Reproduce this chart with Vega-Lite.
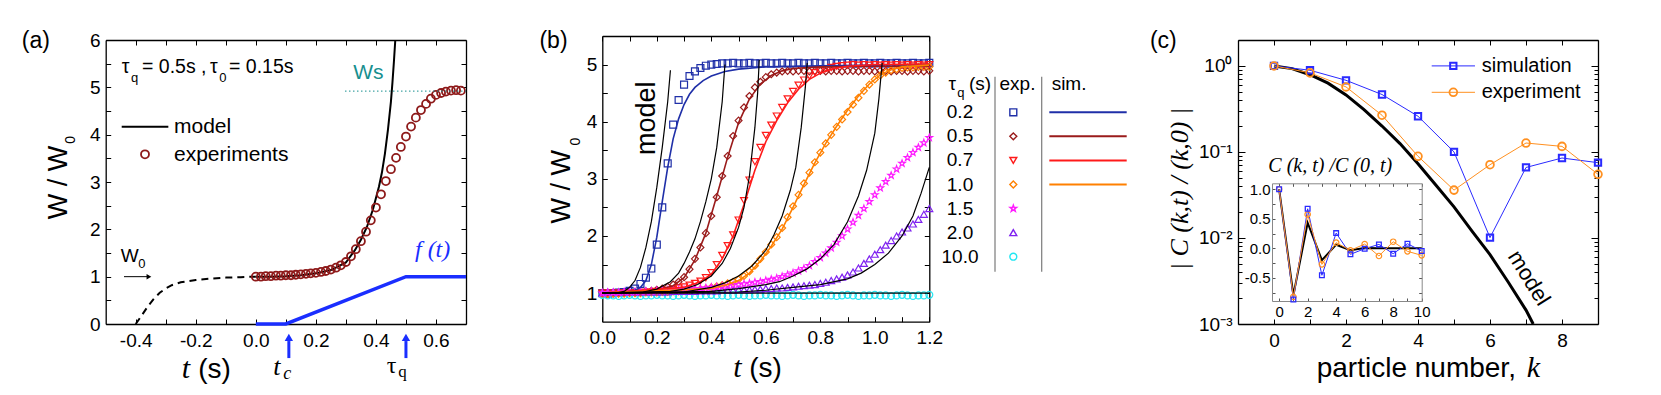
{
"$schema":"https://vega.github.io/schema/vega-lite/v6.json",
"width":1661,"height":395,"autosize":{"type":"none"},"padding":0,"background":"white",
"config":{"font":"Liberation Sans","view":{"stroke":null},
 "axis":{"grid":false,"title":null,"domainColor":"#000","domainWidth":1.3,"tickColor":"#000","tickWidth":1,"tickSize":-5,"labelFont":"Liberation Sans","labelFontSize":19,"labelColor":"#000","labelFlush":false,"labelOverlap":false,"labelBound":false},
 "text":{"font":"Liberation Sans","color":"#000"}},
"resolve":{"scale":{"x":"independent","y":"independent"},"axis":{"x":"independent","y":"independent"}},
"layer":[
{
 "resolve":{"axis":{"x":"independent","y":"independent"}},
 "layer":[
  {"data":{"values":[{"t":0,"w":0},{"t":0.1,"w":0},{"t":0.5,"w":1},{"t":0.7,"w":1}]},
   "mark":{"type":"line","color":"#1a2eff","strokeWidth":3.5},
   "encoding":{"x":{"field":"t","type":"quantitative","scale":{"domain":[-0.5,0.7],"range":[105.7,466],"nice":false,"zero":false},
                    "axis":{"orient":"bottom","offset":-71,"values":[-0.4,-0.3,-0.2,-0.1,0,0.1,0.2,0.3,0.4,0.5,0.6],"labelExpr":"abs(round(datum.value*10))%2==0 ? replace(format(datum.value,'.1f'),'\u2212','-') : ''","labelPadding":12}},
               "y":{"field":"w","type":"quantitative","scale":{"domain":[0,6],"range":[324,40],"nice":false,"zero":false},
                    "axis":{"orient":"left","offset":-105.7,"values":[0,0.5,1,1.5,2,2.5,3,3.5,4,4.5,5,5.5,6],"labelExpr":"datum.value%1==0 ? format(datum.value,'d') : ''","labelPadding":10.5}}}},
  {"data":{"values":[{"t":-0.4,"w":0},{"t":-0.38,"w":0.18},{"t":-0.36,"w":0.37},{"t":-0.34,"w":0.53},{"t":-0.32,"w":0.66},{"t":-0.3,"w":0.75},{"t":-0.28,"w":0.82},{"t":-0.25,"w":0.88},{"t":-0.2,"w":0.93},{"t":-0.15,"w":0.96},{"t":-0.1,"w":0.98},{"t":-0.05,"w":0.99},{"t":0,"w":1}]},
   "mark":{"type":"line","color":"#000","strokeWidth":2,"strokeDash":[7,5]},
   "encoding":{"x":{"field":"t","type":"quantitative","scale":{"domain":[-0.5,0.7],"range":[105.7,466],"nice":false,"zero":false},
                    "axis":{"orient":"top","offset":-40,"values":[-0.4,-0.3,-0.2,-0.1,0,0.1,0.2,0.3,0.4,0.5,0.6],"labels":false}},
               "y":{"field":"w","type":"quantitative","scale":{"domain":[0,6],"range":[324,40],"nice":false,"zero":false},
                    "axis":{"orient":"right","offset":-1195,"values":[0,0.5,1,1.5,2,2.5,3,3.5,4,4.5,5,5.5,6],"labels":false}}}},
  {"data":{"values":[{"t":0,"w":1},{"t":0.05,"w":1},{"t":0.1,"w":1.01},{"t":0.15,"w":1.03},{"t":0.2,"w":1.07},{"t":0.25,"w":1.14},{"t":0.27,"w":1.2},{"t":0.3,"w":1.3},{"t":0.33,"w":1.56},{"t":0.35,"w":1.78},{"t":0.37,"w":2.05},{"t":0.39,"w":2.42},{"t":0.41,"w":2.9},{"t":0.42,"w":3.2},{"t":0.43,"w":3.6},{"t":0.44,"w":4.1},{"t":0.45,"w":4.7},{"t":0.455,"w":5.1},{"t":0.46,"w":5.55},{"t":0.4645,"w":6}]},
   "mark":{"type":"line","color":"#000","strokeWidth":2},
   "encoding":{"x":{"field":"t","type":"quantitative","scale":{"domain":[-0.5,0.7],"range":[105.7,466],"nice":false,"zero":false},"axis":null},
               "y":{"field":"w","type":"quantitative","scale":{"domain":[0,6],"range":[324,40],"nice":false,"zero":false},"axis":null}}},
  {"data":{"values":[{"t":0,"w":1},{"t":0.017,"w":1},{"t":0.033,"w":1.01},{"t":0.05,"w":1.01},{"t":0.067,"w":1.02},{"t":0.083,"w":1.02},{"t":0.1,"w":1.03},{"t":0.117,"w":1.03},{"t":0.133,"w":1.04},{"t":0.15,"w":1.05},{"t":0.167,"w":1.06},{"t":0.183,"w":1.07},{"t":0.2,"w":1.08},{"t":0.217,"w":1.1},{"t":0.233,"w":1.12},{"t":0.25,"w":1.15},{"t":0.267,"w":1.19},{"t":0.283,"w":1.24},{"t":0.3,"w":1.31},{"t":0.317,"w":1.43},{"t":0.333,"w":1.58},{"t":0.35,"w":1.75},{"t":0.367,"w":1.95},{"t":0.383,"w":2.19},{"t":0.4,"w":2.46},{"t":0.417,"w":2.74},{"t":0.433,"w":3.02},{"t":0.45,"w":3.27},{"t":0.467,"w":3.51},{"t":0.483,"w":3.74},{"t":0.5,"w":3.96},{"t":0.517,"w":4.17},{"t":0.533,"w":4.36},{"t":0.55,"w":4.52},{"t":0.567,"w":4.65},{"t":0.583,"w":4.76},{"t":0.6,"w":4.84},{"t":0.617,"w":4.88},{"t":0.633,"w":4.91},{"t":0.65,"w":4.93},{"t":0.667,"w":4.94},{"t":0.683,"w":4.93}]},
   "mark":{"type":"point","shape":"circle","filled":false,"color":"#8e1a1a","size":64,"strokeWidth":1.8,"opacity":1},
   "encoding":{"x":{"field":"t","type":"quantitative","scale":{"domain":[-0.5,0.7],"range":[105.7,466],"nice":false,"zero":false},"axis":null},
               "y":{"field":"w","type":"quantitative","scale":{"domain":[0,6],"range":[324,40],"nice":false,"zero":false},"axis":null}}},
  {"data":{"values":[{"level":"Ws"}]},"mark":{"type":"rule","color":"#178f8f","strokeWidth":1,"strokeDash":[1.5,2.5]},
   "encoding":{"x":{"datum":0.297,"type":"quantitative","scale":{"domain":[-0.5,0.7],"range":[105.7,466],"nice":false,"zero":false},"axis":null},"x2":{"datum":0.7},"y":{"datum":4.92,"type":"quantitative","scale":{"domain":[0,6],"range":[324,40],"nice":false,"zero":false},"axis":null}}},
  {"data":{"values":[{"label":"Ws"}]},"mark":{"type":"text","fontSize":21,"align":"left","baseline":"alphabetic","color":"#178f8f"},
   "encoding":{"x":{"datum":0.3245,"type":"quantitative","scale":{"domain":[-0.5,0.7],"range":[105.7,466],"nice":false,"zero":false},"axis":null},"y":{"datum":5.17,"type":"quantitative","scale":{"domain":[0,6],"range":[324,40],"nice":false,"zero":false},"axis":null},"text":{"field":"label"}}},
  {"data":{"values":[{"label":"(a)"}]},"mark":{"type":"text","fontSize":23,"align":"center","baseline":"alphabetic"},
   "encoding":{"x":{"datum":-0.7328,"type":"quantitative","scale":{"domain":[-0.5,0.7],"range":[105.7,466],"nice":false,"zero":false},"axis":null},"y":{"datum":5.831,"type":"quantitative","scale":{"domain":[0,6],"range":[324,40],"nice":false,"zero":false},"axis":null},"text":{"field":"label"}}},
  {"data":{"values":[{"label":"τ"}]},"mark":{"type":"text","fontSize":19.5,"align":"left","baseline":"alphabetic"},
   "encoding":{"x":{"datum":-0.4467,"type":"quantitative","scale":{"domain":[-0.5,0.7],"range":[105.7,466],"nice":false,"zero":false},"axis":null},"y":{"datum":5.31,"type":"quantitative","scale":{"domain":[0,6],"range":[324,40],"nice":false,"zero":false},"axis":null},"text":{"field":"label"}}},
  {"data":{"values":[{"label":"q"}]},"mark":{"type":"text","fontSize":13,"align":"left","baseline":"alphabetic"},
   "encoding":{"x":{"datum":-0.4154,"type":"quantitative","scale":{"domain":[-0.5,0.7],"range":[105.7,466],"nice":false,"zero":false},"axis":null},"y":{"datum":5.119,"type":"quantitative","scale":{"domain":[0,6],"range":[324,40],"nice":false,"zero":false},"axis":null},"text":{"field":"label"}}},
  {"data":{"values":[{"label":"= 0.5s ,"}]},"mark":{"type":"text","fontSize":19.5,"align":"left","baseline":"alphabetic"},
   "encoding":{"x":{"datum":-0.3791,"type":"quantitative","scale":{"domain":[-0.5,0.7],"range":[105.7,466],"nice":false,"zero":false},"axis":null},"y":{"datum":5.31,"type":"quantitative","scale":{"domain":[0,6],"range":[324,40],"nice":false,"zero":false},"axis":null},"text":{"field":"label"}}},
  {"data":{"values":[{"label":"τ"}]},"mark":{"type":"text","fontSize":19.5,"align":"left","baseline":"alphabetic"},
   "encoding":{"x":{"datum":-0.153,"type":"quantitative","scale":{"domain":[-0.5,0.7],"range":[105.7,466],"nice":false,"zero":false},"axis":null},"y":{"datum":5.31,"type":"quantitative","scale":{"domain":[0,6],"range":[324,40],"nice":false,"zero":false},"axis":null},"text":{"field":"label"}}},
  {"data":{"values":[{"label":"0"}]},"mark":{"type":"text","fontSize":13,"align":"left","baseline":"alphabetic"},
   "encoding":{"x":{"datum":-0.1215,"type":"quantitative","scale":{"domain":[-0.5,0.7],"range":[105.7,466],"nice":false,"zero":false},"axis":null},"y":{"datum":5.119,"type":"quantitative","scale":{"domain":[0,6],"range":[324,40],"nice":false,"zero":false},"axis":null},"text":{"field":"label"}}},
  {"data":{"values":[{"label":"= 0.15s"}]},"mark":{"type":"text","fontSize":19.5,"align":"left","baseline":"alphabetic"},
   "encoding":{"x":{"datum":-0.0894,"type":"quantitative","scale":{"domain":[-0.5,0.7],"range":[105.7,466],"nice":false,"zero":false},"axis":null},"y":{"datum":5.31,"type":"quantitative","scale":{"domain":[0,6],"range":[324,40],"nice":false,"zero":false},"axis":null},"text":{"field":"label"}}},
  {"data":{"values":[{"item":"model"}]},"mark":{"type":"rule","color":"#000","strokeWidth":2},
   "encoding":{"x":{"datum":-0.4467,"type":"quantitative","scale":{"domain":[-0.5,0.7],"range":[105.7,466],"nice":false,"zero":false},"axis":null},"x2":{"datum":-0.2914},"y":{"datum":4.169,"type":"quantitative","scale":{"domain":[0,6],"range":[324,40],"nice":false,"zero":false},"axis":null}}},
  {"data":{"values":[{"label":"model"}]},"mark":{"type":"text","fontSize":21,"align":"left","baseline":"alphabetic"},
   "encoding":{"x":{"datum":-0.2725,"type":"quantitative","scale":{"domain":[-0.5,0.7],"range":[105.7,466],"nice":false,"zero":false},"axis":null},"y":{"datum":4.029,"type":"quantitative","scale":{"domain":[0,6],"range":[324,40],"nice":false,"zero":false},"axis":null},"text":{"field":"label"}}},
  {"data":{"values":[{"item":"experiments"}]},"mark":{"type":"point","shape":"circle","filled":false,"color":"#8e1a1a","size":64,"strokeWidth":1.8,"opacity":1},
   "encoding":{"x":{"datum":-0.3691,"type":"quantitative","scale":{"domain":[-0.5,0.7],"range":[105.7,466],"nice":false,"zero":false},"axis":null},"y":{"datum":3.585,"type":"quantitative","scale":{"domain":[0,6],"range":[324,40],"nice":false,"zero":false},"axis":null}}},
  {"data":{"values":[{"label":"experiments"}]},"mark":{"type":"text","fontSize":21,"align":"left","baseline":"alphabetic"},
   "encoding":{"x":{"datum":-0.2725,"type":"quantitative","scale":{"domain":[-0.5,0.7],"range":[105.7,466],"nice":false,"zero":false},"axis":null},"y":{"datum":3.444,"type":"quantitative","scale":{"domain":[0,6],"range":[324,40],"nice":false,"zero":false},"axis":null},"text":{"field":"label"}}},
  {"data":{"values":[{"label":"W"}]},"mark":{"type":"text","fontSize":19,"align":"left","baseline":"alphabetic"},
   "encoding":{"x":{"datum":-0.45,"type":"quantitative","scale":{"domain":[-0.5,0.7],"range":[105.7,466],"nice":false,"zero":false},"axis":null},"y":{"datum":1.317,"type":"quantitative","scale":{"domain":[0,6],"range":[324,40],"nice":false,"zero":false},"axis":null},"text":{"field":"label"}}},
  {"data":{"values":[{"label":"0"}]},"mark":{"type":"text","fontSize":13,"align":"left","baseline":"alphabetic"},
   "encoding":{"x":{"datum":-0.3915,"type":"quantitative","scale":{"domain":[-0.5,0.7],"range":[105.7,466],"nice":false,"zero":false},"axis":null},"y":{"datum":1.176,"type":"quantitative","scale":{"domain":[0,6],"range":[324,40],"nice":false,"zero":false},"axis":null},"text":{"field":"label"}}},
  {"data":{"values":[{"item":"W0"}]},"mark":{"type":"rule","color":"#000","strokeWidth":1},
   "encoding":{"x":{"datum":-0.439,"type":"quantitative","scale":{"domain":[-0.5,0.7],"range":[105.7,466],"nice":false,"zero":false},"axis":null},"x2":{"datum":-0.362},"y":{"datum":1,"type":"quantitative","scale":{"domain":[0,6],"range":[324,40],"nice":false,"zero":false},"axis":null}}},
  {"data":{"values":[{"item":"W0"}]},"mark":{"type":"point","shape":"triangle-right","filled":true,"color":"#000","size":30,"opacity":1},
   "encoding":{"x":{"datum":-0.356,"type":"quantitative","scale":{"domain":[-0.5,0.7],"range":[105.7,466],"nice":false,"zero":false},"axis":null},"y":{"datum":1,"type":"quantitative","scale":{"domain":[0,6],"range":[324,40],"nice":false,"zero":false},"axis":null}}},
  {"data":{"values":[{"label":"f (t)"}]},"mark":{"type":"text","fontSize":24,"font":"Liberation Serif","fontStyle":"italic","align":"left","baseline":"alphabetic","color":"#1a2eff"},
   "encoding":{"x":{"datum":0.53,"type":"quantitative","scale":{"domain":[-0.5,0.7],"range":[105.7,466],"nice":false,"zero":false},"axis":null},"y":{"datum":1.422,"type":"quantitative","scale":{"domain":[0,6],"range":[324,40],"nice":false,"zero":false},"axis":null},"text":{"field":"label"}}},
  {"data":{"values":[{"name":"tc","t":0.11},{"name":"tau_q","t":0.5}]},"mark":{"type":"rule","color":"#1a2eff","strokeWidth":3},
   "encoding":{"x":{"field":"t","type":"quantitative","scale":{"domain":[-0.5,0.7],"range":[105.7,466],"nice":false,"zero":false},"axis":null},
               "y":{"datum":-0.72,"type":"quantitative","scale":{"domain":[0,6],"range":[324,40],"nice":false,"zero":false},"axis":null},"y2":{"datum":-0.36}}},
  {"data":{"values":[{"name":"tc","t":0.11},{"name":"tau_q","t":0.5}]},"mark":{"type":"point","shape":"triangle-up","filled":true,"color":"#1a2eff","size":70,"opacity":1},
   "encoding":{"x":{"field":"t","type":"quantitative","scale":{"domain":[-0.5,0.7],"range":[105.7,466],"nice":false,"zero":false},"axis":null},
               "y":{"datum":-0.28,"type":"quantitative","scale":{"domain":[0,6],"range":[324,40],"nice":false,"zero":false},"axis":null}}},
  {"data":{"values":[{"label":"t"}]},"mark":{"type":"text","fontSize":26,"font":"Liberation Serif","fontStyle":"italic","align":"left","baseline":"alphabetic"},
   "encoding":{"x":{"datum":0.058,"type":"quantitative","scale":{"domain":[-0.5,0.7],"range":[105.7,466],"nice":false,"zero":false},"axis":null},"y":{"datum":-1.077,"type":"quantitative","scale":{"domain":[0,6],"range":[324,40],"nice":false,"zero":false},"axis":null},"text":{"field":"label"}}},
  {"data":{"values":[{"label":"c"}]},"mark":{"type":"text","fontSize":18,"font":"Liberation Serif","fontStyle":"italic","align":"left","baseline":"alphabetic"},
   "encoding":{"x":{"datum":0.0914,"type":"quantitative","scale":{"domain":[-0.5,0.7],"range":[105.7,466],"nice":false,"zero":false},"axis":null},"y":{"datum":-1.162,"type":"quantitative","scale":{"domain":[0,6],"range":[324,40],"nice":false,"zero":false},"axis":null},"text":{"field":"label"}}},
  {"data":{"values":[{"label":"τ"}]},"mark":{"type":"text","fontSize":24,"font":"Liberation Serif","align":"left","baseline":"alphabetic"},
   "encoding":{"x":{"datum":0.4357,"type":"quantitative","scale":{"domain":[-0.5,0.7],"range":[105.7,466],"nice":false,"zero":false},"axis":null},"y":{"datum":-1.042,"type":"quantitative","scale":{"domain":[0,6],"range":[324,40],"nice":false,"zero":false},"axis":null},"text":{"field":"label"}}},
  {"data":{"values":[{"label":"q"}]},"mark":{"type":"text","fontSize":17,"font":"Liberation Serif","align":"left","baseline":"alphabetic"},
   "encoding":{"x":{"datum":0.4744,"type":"quantitative","scale":{"domain":[-0.5,0.7],"range":[105.7,466],"nice":false,"zero":false},"axis":null},"y":{"datum":-1.113,"type":"quantitative","scale":{"domain":[0,6],"range":[324,40],"nice":false,"zero":false},"axis":null},"text":{"field":"label"}}},
  {"data":{"values":[{"label":"t"}]},"mark":{"type":"text","fontSize":30,"font":"Liberation Serif","fontStyle":"italic","align":"left","baseline":"alphabetic"},
   "encoding":{"x":{"datum":-0.2469,"type":"quantitative","scale":{"domain":[-0.5,0.7],"range":[105.7,466],"nice":false,"zero":false},"axis":null},"y":{"datum":-1.141,"type":"quantitative","scale":{"domain":[0,6],"range":[324,40],"nice":false,"zero":false},"axis":null},"text":{"field":"label"}}},
  {"data":{"values":[{"label":"(s)"}]},"mark":{"type":"text","fontSize":28,"align":"left","baseline":"alphabetic"},
   "encoding":{"x":{"datum":-0.1917,"type":"quantitative","scale":{"domain":[-0.5,0.7],"range":[105.7,466],"nice":false,"zero":false},"axis":null},"y":{"datum":-1.141,"type":"quantitative","scale":{"domain":[0,6],"range":[324,40],"nice":false,"zero":false},"axis":null},"text":{"field":"label"}}},
  {"data":{"values":[{"label":"W / W"}]},"mark":{"type":"text","fontSize":27,"angle":270,"align":"center","baseline":"alphabetic"},
   "encoding":{"x":{"datum":-0.6299,"type":"quantitative","scale":{"domain":[-0.5,0.7],"range":[105.7,466],"nice":false,"zero":false},"axis":null},"y":{"datum":2.99,"type":"quantitative","scale":{"domain":[0,6],"range":[324,40],"nice":false,"zero":false},"axis":null},"text":{"field":"label"}}},
  {"data":{"values":[{"label":"0"}]},"mark":{"type":"text","fontSize":14,"angle":270,"align":"center","baseline":"alphabetic"},
   "encoding":{"x":{"datum":-0.6022,"type":"quantitative","scale":{"domain":[-0.5,0.7],"range":[105.7,466],"nice":false,"zero":false},"axis":null},"y":{"datum":3.888,"type":"quantitative","scale":{"domain":[0,6],"range":[324,40],"nice":false,"zero":false},"axis":null},"text":{"field":"label"}}}
 ]
},
{
 "resolve":{"axis":{"x":"independent","y":"independent"}},
 "layer":[
  {"data":{"values":[
{"s":"0.2","t":0,"w":1},{"s":"0.2","t":0.02,"w":0.99},{"s":"0.2","t":0.04,"w":1},{"s":"0.2","t":0.06,"w":1.01},{"s":"0.2","t":0.08,"w":1.02},{"s":"0.2","t":0.1,"w":1.04},{"s":"0.2","t":0.12,"w":1.08},{"s":"0.2","t":0.14,"w":1.16},{"s":"0.2","t":0.16,"w":1.27},{"s":"0.2","t":0.18,"w":1.43},{"s":"0.2","t":0.2,"w":1.85},{"s":"0.2","t":0.22,"w":2.5},{"s":"0.2","t":0.24,"w":3.27},{"s":"0.2","t":0.26,"w":3.95},{"s":"0.2","t":0.28,"w":4.38},{"s":"0.2","t":0.3,"w":4.65},{"s":"0.2","t":0.32,"w":4.8},{"s":"0.2","t":0.34,"w":4.88},{"s":"0.2","t":0.36,"w":4.94},{"s":"0.2","t":0.38,"w":4.98},{"s":"0.2","t":0.4,"w":5},{"s":"0.2","t":0.42,"w":5.01},{"s":"0.2","t":0.44,"w":5.02},{"s":"0.2","t":0.46,"w":5.02},{"s":"0.2","t":0.48,"w":5.03},{"s":"0.2","t":0.5,"w":5.02},{"s":"0.2","t":0.52,"w":5.02},{"s":"0.2","t":0.54,"w":5.03},{"s":"0.2","t":0.56,"w":5.02},{"s":"0.2","t":0.58,"w":5.02},{"s":"0.2","t":0.6,"w":5.03},{"s":"0.2","t":0.62,"w":5.02},{"s":"0.2","t":0.64,"w":5.02},{"s":"0.2","t":0.66,"w":5.03},{"s":"0.2","t":0.68,"w":5.02},{"s":"0.2","t":0.7,"w":5.02},{"s":"0.2","t":0.72,"w":5.03},{"s":"0.2","t":0.74,"w":5.02},{"s":"0.2","t":0.76,"w":5.02},{"s":"0.2","t":0.78,"w":5.03},{"s":"0.2","t":0.8,"w":5.02},{"s":"0.2","t":0.82,"w":5.02},{"s":"0.2","t":0.84,"w":5.03},{"s":"0.2","t":0.86,"w":5.02},{"s":"0.2","t":0.88,"w":5.02},{"s":"0.2","t":0.9,"w":5.03},{"s":"0.2","t":0.92,"w":5.02},{"s":"0.2","t":0.94,"w":5.02},{"s":"0.2","t":0.96,"w":5.03},{"s":"0.2","t":0.98,"w":5.02},{"s":"0.2","t":1,"w":5.02},{"s":"0.2","t":1.02,"w":5.03},{"s":"0.2","t":1.04,"w":5.02},{"s":"0.2","t":1.06,"w":5.02},{"s":"0.2","t":1.08,"w":5.03},{"s":"0.2","t":1.1,"w":5.02},{"s":"0.2","t":1.12,"w":5.02},{"s":"0.2","t":1.14,"w":5.03},{"s":"0.2","t":1.16,"w":5.02},{"s":"0.2","t":1.18,"w":5.02},{"s":"0.2","t":1.2,"w":5.03},
{"s":"0.5","t":0,"w":1},{"s":"0.5","t":0.02,"w":1},{"s":"0.5","t":0.04,"w":1},{"s":"0.5","t":0.06,"w":1},{"s":"0.5","t":0.08,"w":1.01},{"s":"0.5","t":0.1,"w":1.01},{"s":"0.5","t":0.12,"w":1.02},{"s":"0.5","t":0.14,"w":1.02},{"s":"0.5","t":0.16,"w":1.03},{"s":"0.5","t":0.18,"w":1.04},{"s":"0.5","t":0.2,"w":1.06},{"s":"0.5","t":0.22,"w":1.08},{"s":"0.5","t":0.24,"w":1.11},{"s":"0.5","t":0.26,"w":1.15},{"s":"0.5","t":0.28,"w":1.2},{"s":"0.5","t":0.3,"w":1.28},{"s":"0.5","t":0.32,"w":1.42},{"s":"0.5","t":0.34,"w":1.6},{"s":"0.5","t":0.36,"w":1.8},{"s":"0.5","t":0.38,"w":2.05},{"s":"0.5","t":0.4,"w":2.35},{"s":"0.5","t":0.42,"w":2.68},{"s":"0.5","t":0.44,"w":3.05},{"s":"0.5","t":0.46,"w":3.4},{"s":"0.5","t":0.48,"w":3.75},{"s":"0.5","t":0.5,"w":4.02},{"s":"0.5","t":0.52,"w":4.25},{"s":"0.5","t":0.54,"w":4.45},{"s":"0.5","t":0.56,"w":4.6},{"s":"0.5","t":0.58,"w":4.7},{"s":"0.5","t":0.6,"w":4.78},{"s":"0.5","t":0.62,"w":4.83},{"s":"0.5","t":0.64,"w":4.86},{"s":"0.5","t":0.66,"w":4.88},{"s":"0.5","t":0.68,"w":4.89},{"s":"0.5","t":0.7,"w":4.88},{"s":"0.5","t":0.72,"w":4.89},{"s":"0.5","t":0.74,"w":4.89},{"s":"0.5","t":0.76,"w":4.88},{"s":"0.5","t":0.78,"w":4.89},{"s":"0.5","t":0.8,"w":4.89},{"s":"0.5","t":0.82,"w":4.88},{"s":"0.5","t":0.84,"w":4.89},{"s":"0.5","t":0.86,"w":4.89},{"s":"0.5","t":0.88,"w":4.88},{"s":"0.5","t":0.9,"w":4.89},{"s":"0.5","t":0.92,"w":4.89},{"s":"0.5","t":0.94,"w":4.88},{"s":"0.5","t":0.96,"w":4.89},{"s":"0.5","t":0.98,"w":4.89},{"s":"0.5","t":1,"w":4.88},{"s":"0.5","t":1.02,"w":4.89},{"s":"0.5","t":1.04,"w":4.89},{"s":"0.5","t":1.06,"w":4.88},{"s":"0.5","t":1.08,"w":4.89},{"s":"0.5","t":1.1,"w":4.89},{"s":"0.5","t":1.12,"w":4.88},{"s":"0.5","t":1.14,"w":4.89},{"s":"0.5","t":1.16,"w":4.89},{"s":"0.5","t":1.18,"w":4.88},{"s":"0.5","t":1.2,"w":4.89},
{"s":"0.7","t":0,"w":1},{"s":"0.7","t":0.02,"w":1},{"s":"0.7","t":0.04,"w":1},{"s":"0.7","t":0.06,"w":1},{"s":"0.7","t":0.08,"w":1},{"s":"0.7","t":0.1,"w":1.01},{"s":"0.7","t":0.12,"w":1.01},{"s":"0.7","t":0.14,"w":1.01},{"s":"0.7","t":0.16,"w":1.02},{"s":"0.7","t":0.18,"w":1.02},{"s":"0.7","t":0.2,"w":1.03},{"s":"0.7","t":0.22,"w":1.04},{"s":"0.7","t":0.24,"w":1.05},{"s":"0.7","t":0.26,"w":1.07},{"s":"0.7","t":0.28,"w":1.09},{"s":"0.7","t":0.3,"w":1.11},{"s":"0.7","t":0.32,"w":1.14},{"s":"0.7","t":0.34,"w":1.17},{"s":"0.7","t":0.36,"w":1.21},{"s":"0.7","t":0.38,"w":1.27},{"s":"0.7","t":0.4,"w":1.36},{"s":"0.7","t":0.42,"w":1.5},{"s":"0.7","t":0.44,"w":1.66},{"s":"0.7","t":0.46,"w":1.83},{"s":"0.7","t":0.48,"w":2.02},{"s":"0.7","t":0.5,"w":2.28},{"s":"0.7","t":0.52,"w":2.62},{"s":"0.7","t":0.54,"w":2.98},{"s":"0.7","t":0.56,"w":3.3},{"s":"0.7","t":0.58,"w":3.55},{"s":"0.7","t":0.6,"w":3.76},{"s":"0.7","t":0.62,"w":3.94},{"s":"0.7","t":0.64,"w":4.1},{"s":"0.7","t":0.66,"w":4.25},{"s":"0.7","t":0.68,"w":4.4},{"s":"0.7","t":0.7,"w":4.53},{"s":"0.7","t":0.72,"w":4.64},{"s":"0.7","t":0.74,"w":4.73},{"s":"0.7","t":0.76,"w":4.8},{"s":"0.7","t":0.78,"w":4.86},{"s":"0.7","t":0.8,"w":4.9},{"s":"0.7","t":0.82,"w":4.93},{"s":"0.7","t":0.84,"w":4.95},{"s":"0.7","t":0.86,"w":4.97},{"s":"0.7","t":0.88,"w":4.98},{"s":"0.7","t":0.9,"w":4.99},{"s":"0.7","t":0.92,"w":5},{"s":"0.7","t":0.94,"w":4.99},{"s":"0.7","t":0.96,"w":5},{"s":"0.7","t":0.98,"w":4.99},{"s":"0.7","t":1,"w":5},{"s":"0.7","t":1.02,"w":4.99},{"s":"0.7","t":1.04,"w":5},{"s":"0.7","t":1.06,"w":4.99},{"s":"0.7","t":1.08,"w":5},{"s":"0.7","t":1.1,"w":4.99},{"s":"0.7","t":1.12,"w":5},{"s":"0.7","t":1.14,"w":4.99},{"s":"0.7","t":1.16,"w":5},{"s":"0.7","t":1.18,"w":4.99},{"s":"0.7","t":1.2,"w":5},
{"s":"1.0","t":0,"w":0.98},{"s":"1.0","t":0.02,"w":0.98},{"s":"1.0","t":0.04,"w":0.99},{"s":"1.0","t":0.06,"w":0.99},{"s":"1.0","t":0.08,"w":0.99},{"s":"1.0","t":0.1,"w":1},{"s":"1.0","t":0.12,"w":1},{"s":"1.0","t":0.14,"w":1},{"s":"1.0","t":0.16,"w":1.01},{"s":"1.0","t":0.18,"w":1.01},{"s":"1.0","t":0.2,"w":1.01},{"s":"1.0","t":0.22,"w":1.02},{"s":"1.0","t":0.24,"w":1.02},{"s":"1.0","t":0.26,"w":1.03},{"s":"1.0","t":0.28,"w":1.03},{"s":"1.0","t":0.3,"w":1.04},{"s":"1.0","t":0.32,"w":1.05},{"s":"1.0","t":0.34,"w":1.06},{"s":"1.0","t":0.36,"w":1.07},{"s":"1.0","t":0.38,"w":1.08},{"s":"1.0","t":0.4,"w":1.1},{"s":"1.0","t":0.42,"w":1.12},{"s":"1.0","t":0.44,"w":1.14},{"s":"1.0","t":0.46,"w":1.17},{"s":"1.0","t":0.48,"w":1.2},{"s":"1.0","t":0.5,"w":1.24},{"s":"1.0","t":0.52,"w":1.3},{"s":"1.0","t":0.54,"w":1.38},{"s":"1.0","t":0.56,"w":1.48},{"s":"1.0","t":0.58,"w":1.6},{"s":"1.0","t":0.6,"w":1.72},{"s":"1.0","t":0.62,"w":1.85},{"s":"1.0","t":0.64,"w":1.98},{"s":"1.0","t":0.66,"w":2.14},{"s":"1.0","t":0.68,"w":2.33},{"s":"1.0","t":0.7,"w":2.52},{"s":"1.0","t":0.72,"w":2.72},{"s":"1.0","t":0.74,"w":2.92},{"s":"1.0","t":0.76,"w":3.11},{"s":"1.0","t":0.78,"w":3.29},{"s":"1.0","t":0.8,"w":3.46},{"s":"1.0","t":0.82,"w":3.62},{"s":"1.0","t":0.84,"w":3.77},{"s":"1.0","t":0.86,"w":3.91},{"s":"1.0","t":0.88,"w":4.04},{"s":"1.0","t":0.9,"w":4.17},{"s":"1.0","t":0.92,"w":4.3},{"s":"1.0","t":0.94,"w":4.42},{"s":"1.0","t":0.96,"w":4.54},{"s":"1.0","t":0.98,"w":4.65},{"s":"1.0","t":1,"w":4.74},{"s":"1.0","t":1.02,"w":4.81},{"s":"1.0","t":1.04,"w":4.86},{"s":"1.0","t":1.06,"w":4.9},{"s":"1.0","t":1.08,"w":4.92},{"s":"1.0","t":1.1,"w":4.94},{"s":"1.0","t":1.12,"w":4.95},{"s":"1.0","t":1.14,"w":4.95},{"s":"1.0","t":1.16,"w":4.96},{"s":"1.0","t":1.18,"w":4.96},{"s":"1.0","t":1.2,"w":4.96},
{"s":"10.0","t":0,"w":0.97},{"s":"10.0","t":0.02,"w":0.96},{"s":"10.0","t":0.04,"w":0.96},{"s":"10.0","t":0.06,"w":0.95},{"s":"10.0","t":0.08,"w":0.96},{"s":"10.0","t":0.1,"w":0.97},{"s":"10.0","t":0.12,"w":0.96},{"s":"10.0","t":0.14,"w":0.95},{"s":"10.0","t":0.16,"w":0.96},{"s":"10.0","t":0.18,"w":0.96},{"s":"10.0","t":0.2,"w":0.97},{"s":"10.0","t":0.22,"w":0.96},{"s":"10.0","t":0.24,"w":0.96},{"s":"10.0","t":0.26,"w":0.95},{"s":"10.0","t":0.28,"w":0.96},{"s":"10.0","t":0.3,"w":0.97},{"s":"10.0","t":0.32,"w":0.96},{"s":"10.0","t":0.34,"w":0.95},{"s":"10.0","t":0.36,"w":0.96},{"s":"10.0","t":0.38,"w":0.96},{"s":"10.0","t":0.4,"w":0.97},{"s":"10.0","t":0.42,"w":0.96},{"s":"10.0","t":0.44,"w":0.96},{"s":"10.0","t":0.46,"w":0.95},{"s":"10.0","t":0.48,"w":0.96},{"s":"10.0","t":0.5,"w":0.97},{"s":"10.0","t":0.52,"w":0.96},{"s":"10.0","t":0.54,"w":0.95},{"s":"10.0","t":0.56,"w":0.96},{"s":"10.0","t":0.58,"w":0.96},{"s":"10.0","t":0.6,"w":0.97},{"s":"10.0","t":0.62,"w":0.96},{"s":"10.0","t":0.64,"w":0.96},{"s":"10.0","t":0.66,"w":0.95},{"s":"10.0","t":0.68,"w":0.96},{"s":"10.0","t":0.7,"w":0.97},{"s":"10.0","t":0.72,"w":0.96},{"s":"10.0","t":0.74,"w":0.95},{"s":"10.0","t":0.76,"w":0.96},{"s":"10.0","t":0.78,"w":0.96},{"s":"10.0","t":0.8,"w":0.97},{"s":"10.0","t":0.82,"w":0.96},{"s":"10.0","t":0.84,"w":0.96},{"s":"10.0","t":0.86,"w":0.95},{"s":"10.0","t":0.88,"w":0.96},{"s":"10.0","t":0.9,"w":0.97},{"s":"10.0","t":0.92,"w":0.96},{"s":"10.0","t":0.94,"w":0.95},{"s":"10.0","t":0.96,"w":0.96},{"s":"10.0","t":0.98,"w":0.96},{"s":"10.0","t":1,"w":0.97},{"s":"10.0","t":1.02,"w":0.96},{"s":"10.0","t":1.04,"w":0.96},{"s":"10.0","t":1.06,"w":0.95},{"s":"10.0","t":1.08,"w":0.96},{"s":"10.0","t":1.1,"w":0.97},{"s":"10.0","t":1.12,"w":0.96},{"s":"10.0","t":1.14,"w":0.95},{"s":"10.0","t":1.16,"w":0.96},{"s":"10.0","t":1.18,"w":0.96},{"s":"10.0","t":1.2,"w":0.97},
{"s":"2.0","t":0,"w":1.01},{"s":"2.0","t":0.02,"w":1.02},{"s":"2.0","t":0.04,"w":1.02},{"s":"2.0","t":0.06,"w":1.02},{"s":"2.0","t":0.08,"w":1.02},{"s":"2.0","t":0.1,"w":1.02},{"s":"2.0","t":0.12,"w":1.02},{"s":"2.0","t":0.14,"w":1.02},{"s":"2.0","t":0.16,"w":1.02},{"s":"2.0","t":0.18,"w":1.02},{"s":"2.0","t":0.2,"w":1.02},{"s":"2.0","t":0.22,"w":1.02},{"s":"2.0","t":0.24,"w":1.02},{"s":"2.0","t":0.26,"w":1.03},{"s":"2.0","t":0.28,"w":1.03},{"s":"2.0","t":0.3,"w":1.03},{"s":"2.0","t":0.32,"w":1.03},{"s":"2.0","t":0.34,"w":1.03},{"s":"2.0","t":0.36,"w":1.04},{"s":"2.0","t":0.38,"w":1.04},{"s":"2.0","t":0.4,"w":1.04},{"s":"2.0","t":0.42,"w":1.04},{"s":"2.0","t":0.44,"w":1.05},{"s":"2.0","t":0.46,"w":1.05},{"s":"2.0","t":0.48,"w":1.05},{"s":"2.0","t":0.5,"w":1.06},{"s":"2.0","t":0.52,"w":1.06},{"s":"2.0","t":0.54,"w":1.06},{"s":"2.0","t":0.56,"w":1.07},{"s":"2.0","t":0.58,"w":1.07},{"s":"2.0","t":0.6,"w":1.08},{"s":"2.0","t":0.62,"w":1.08},{"s":"2.0","t":0.64,"w":1.09},{"s":"2.0","t":0.66,"w":1.09},{"s":"2.0","t":0.68,"w":1.1},{"s":"2.0","t":0.7,"w":1.11},{"s":"2.0","t":0.72,"w":1.12},{"s":"2.0","t":0.74,"w":1.13},{"s":"2.0","t":0.76,"w":1.14},{"s":"2.0","t":0.78,"w":1.15},{"s":"2.0","t":0.8,"w":1.17},{"s":"2.0","t":0.82,"w":1.19},{"s":"2.0","t":0.84,"w":1.22},{"s":"2.0","t":0.86,"w":1.25},{"s":"2.0","t":0.88,"w":1.28},{"s":"2.0","t":0.9,"w":1.32},{"s":"2.0","t":0.92,"w":1.37},{"s":"2.0","t":0.94,"w":1.44},{"s":"2.0","t":0.96,"w":1.52},{"s":"2.0","t":0.98,"w":1.6},{"s":"2.0","t":1,"w":1.68},{"s":"2.0","t":1.02,"w":1.76},{"s":"2.0","t":1.04,"w":1.84},{"s":"2.0","t":1.06,"w":1.92},{"s":"2.0","t":1.08,"w":2},{"s":"2.0","t":1.1,"w":2.07},{"s":"2.0","t":1.12,"w":2.14},{"s":"2.0","t":1.14,"w":2.21},{"s":"2.0","t":1.16,"w":2.29},{"s":"2.0","t":1.18,"w":2.38},{"s":"2.0","t":1.2,"w":2.48},
{"s":"1.5","t":0,"w":1},{"s":"1.5","t":0.02,"w":1.01},{"s":"1.5","t":0.04,"w":1.01},{"s":"1.5","t":0.06,"w":1.01},{"s":"1.5","t":0.08,"w":1.02},{"s":"1.5","t":0.1,"w":1.02},{"s":"1.5","t":0.12,"w":1.02},{"s":"1.5","t":0.14,"w":1.03},{"s":"1.5","t":0.16,"w":1.03},{"s":"1.5","t":0.18,"w":1.03},{"s":"1.5","t":0.2,"w":1.04},{"s":"1.5","t":0.22,"w":1.04},{"s":"1.5","t":0.24,"w":1.05},{"s":"1.5","t":0.26,"w":1.05},{"s":"1.5","t":0.28,"w":1.06},{"s":"1.5","t":0.3,"w":1.06},{"s":"1.5","t":0.32,"w":1.07},{"s":"1.5","t":0.34,"w":1.08},{"s":"1.5","t":0.36,"w":1.08},{"s":"1.5","t":0.38,"w":1.09},{"s":"1.5","t":0.4,"w":1.1},{"s":"1.5","t":0.42,"w":1.11},{"s":"1.5","t":0.44,"w":1.12},{"s":"1.5","t":0.46,"w":1.13},{"s":"1.5","t":0.48,"w":1.14},{"s":"1.5","t":0.5,"w":1.15},{"s":"1.5","t":0.52,"w":1.16},{"s":"1.5","t":0.54,"w":1.17},{"s":"1.5","t":0.56,"w":1.19},{"s":"1.5","t":0.58,"w":1.2},{"s":"1.5","t":0.6,"w":1.22},{"s":"1.5","t":0.62,"w":1.24},{"s":"1.5","t":0.64,"w":1.26},{"s":"1.5","t":0.66,"w":1.29},{"s":"1.5","t":0.68,"w":1.32},{"s":"1.5","t":0.7,"w":1.35},{"s":"1.5","t":0.72,"w":1.39},{"s":"1.5","t":0.74,"w":1.43},{"s":"1.5","t":0.76,"w":1.48},{"s":"1.5","t":0.78,"w":1.55},{"s":"1.5","t":0.8,"w":1.62},{"s":"1.5","t":0.82,"w":1.7},{"s":"1.5","t":0.84,"w":1.79},{"s":"1.5","t":0.86,"w":1.89},{"s":"1.5","t":0.88,"w":2},{"s":"1.5","t":0.9,"w":2.12},{"s":"1.5","t":0.92,"w":2.24},{"s":"1.5","t":0.94,"w":2.36},{"s":"1.5","t":0.96,"w":2.48},{"s":"1.5","t":0.98,"w":2.6},{"s":"1.5","t":1,"w":2.72},{"s":"1.5","t":1.02,"w":2.84},{"s":"1.5","t":1.04,"w":2.95},{"s":"1.5","t":1.06,"w":3.06},{"s":"1.5","t":1.08,"w":3.17},{"s":"1.5","t":1.1,"w":3.27},{"s":"1.5","t":1.12,"w":3.37},{"s":"1.5","t":1.14,"w":3.46},{"s":"1.5","t":1.16,"w":3.55},{"s":"1.5","t":1.18,"w":3.63},{"s":"1.5","t":1.2,"w":3.72}
   ]},
   "mark":{"type":"point","filled":false,"size":48,"strokeWidth":1.2,"opacity":1},
   "encoding":{"x":{"field":"t","type":"quantitative","scale":{"domain":[0,1.2],"range":[602.3,929.3],"nice":false,"zero":false},"axis":null},
               "y":{"field":"w","type":"quantitative","scale":{"domain":[0.5,5.5],"range":[321.7,36],"nice":false,"zero":false},"axis":null},
               "color":{"field":"s","type":"nominal","legend":null,"scale":{"domain":["0.2","0.5","0.7","1.0","1.5","2.0","10.0"],"range":["#1f2fa8","#9a1b1b","#ff1a1a","#ff8000","#ff1aff","#7f22f0","#22e6f2"]}},
               "shape":{"field":"s","type":"nominal","legend":null,"scale":{"domain":["0.2","0.5","0.7","1.0","1.5","2.0","10.0"],"range":["square","diamond","triangle-down","diamond","M0,-1L0.235,-0.324L0.951,-0.309L0.38,0.124L0.588,0.809L0,0.4L-0.588,0.809L-0.38,0.124L-0.951,-0.309L-0.235,-0.324Z","triangle-up","circle"]}}}},
  {"data":{"values":[
{"s":"0.2","t":0,"w":1},{"s":"0.2","t":0.08,"w":1.01},{"s":"0.2","t":0.12,"w":1.05},{"s":"0.2","t":0.14,"w":1.1},{"s":"0.2","t":0.16,"w":1.22},{"s":"0.2","t":0.18,"w":1.5},{"s":"0.2","t":0.2,"w":1.98},{"s":"0.2","t":0.22,"w":2.6},{"s":"0.2","t":0.24,"w":3.2},{"s":"0.2","t":0.26,"w":3.7},{"s":"0.2","t":0.28,"w":4.05},{"s":"0.2","t":0.3,"w":4.3},{"s":"0.2","t":0.32,"w":4.48},{"s":"0.2","t":0.34,"w":4.6},{"s":"0.2","t":0.37,"w":4.72},{"s":"0.2","t":0.4,"w":4.8},{"s":"0.2","t":0.45,"w":4.88},{"s":"0.2","t":0.5,"w":4.92},{"s":"0.2","t":0.6,"w":4.96},{"s":"0.2","t":0.8,"w":4.98},{"s":"0.2","t":1.2,"w":5},
{"s":"0.5","t":0,"w":1},{"s":"0.5","t":0.2,"w":1.05},{"s":"0.5","t":0.26,"w":1.13},{"s":"0.5","t":0.3,"w":1.27},{"s":"0.5","t":0.34,"w":1.58},{"s":"0.5","t":0.38,"w":2.05},{"s":"0.5","t":0.42,"w":2.7},{"s":"0.5","t":0.46,"w":3.38},{"s":"0.5","t":0.5,"w":3.98},{"s":"0.5","t":0.54,"w":4.4},{"s":"0.5","t":0.58,"w":4.66},{"s":"0.5","t":0.62,"w":4.81},{"s":"0.5","t":0.66,"w":4.89},{"s":"0.5","t":0.7,"w":4.93},{"s":"0.5","t":0.8,"w":4.96},{"s":"0.5","t":1,"w":4.97},{"s":"0.5","t":1.2,"w":4.97},
{"s":"0.7","t":0,"w":1},{"s":"0.7","t":0.3,"w":1.1},{"s":"0.7","t":0.36,"w":1.2},{"s":"0.7","t":0.4,"w":1.33},{"s":"0.7","t":0.44,"w":1.6},{"s":"0.7","t":0.48,"w":2},{"s":"0.7","t":0.52,"w":2.55},{"s":"0.7","t":0.56,"w":3.15},{"s":"0.7","t":0.6,"w":3.65},{"s":"0.7","t":0.64,"w":4.02},{"s":"0.7","t":0.68,"w":4.33},{"s":"0.7","t":0.72,"w":4.57},{"s":"0.7","t":0.76,"w":4.74},{"s":"0.7","t":0.8,"w":4.85},{"s":"0.7","t":0.85,"w":4.93},{"s":"0.7","t":0.9,"w":4.97},{"s":"0.7","t":1,"w":5},{"s":"0.7","t":1.2,"w":5.01},
{"s":"1.0","t":0,"w":1},{"s":"1.0","t":0.4,"w":1.08},{"s":"1.0","t":0.46,"w":1.15},{"s":"1.0","t":0.5,"w":1.22},{"s":"1.0","t":0.54,"w":1.35},{"s":"1.0","t":0.58,"w":1.56},{"s":"1.0","t":0.62,"w":1.82},{"s":"1.0","t":0.66,"w":2.12},{"s":"1.0","t":0.7,"w":2.5},{"s":"1.0","t":0.74,"w":2.9},{"s":"1.0","t":0.78,"w":3.28},{"s":"1.0","t":0.82,"w":3.62},{"s":"1.0","t":0.86,"w":3.92},{"s":"1.0","t":0.9,"w":4.2},{"s":"1.0","t":0.94,"w":4.45},{"s":"1.0","t":0.98,"w":4.66},{"s":"1.0","t":1.02,"w":4.82},{"s":"1.0","t":1.06,"w":4.91},{"s":"1.0","t":1.1,"w":4.96},{"s":"1.0","t":1.2,"w":4.99}
   ]},
   "mark":{"type":"line","strokeWidth":1.6},
   "encoding":{"x":{"field":"t","type":"quantitative","scale":{"domain":[0,1.2],"range":[602.3,929.3],"nice":false,"zero":false},
                    "axis":{"orient":"bottom","offset":-73.3,"values":[0,0.1,0.2,0.3,0.4,0.5,0.6,0.7,0.8,0.9,1,1.1,1.2],"labelExpr":"round(datum.value*10)%2==0 ? format(datum.value,'.1f') : ''","labelPadding":12}},
               "y":{"field":"w","type":"quantitative","scale":{"domain":[0.5,5.5],"range":[321.7,36],"nice":false,"zero":false},
                    "axis":{"orient":"left","offset":-602.3,"values":[1,1.5,2,2.5,3,3.5,4,4.5,5],"labelExpr":"datum.value%1==0 ? format(datum.value,'d') : ''","labelPadding":10.5}},
               "color":{"field":"s","type":"nominal","legend":null,"scale":{"domain":["0.2","0.5","0.7","1.0","1.5","2.0","10.0"],"range":["#1f2fa8","#9a1b1b","#ff1a1a","#ff8000","#ff1aff","#7f22f0","#22e6f2"]}}}},
  {"data":{"values":[
{"m":"0.2","t":0,"w":1},{"m":"0.2","t":0.05,"w":1},{"m":"0.2","t":0.08,"w":1.03},{"m":"0.2","t":0.1,"w":1.1},{"m":"0.2","t":0.12,"w":1.22},{"m":"0.2","t":0.14,"w":1.45},{"m":"0.2","t":0.16,"w":1.8},{"m":"0.2","t":0.18,"w":2.25},{"m":"0.2","t":0.2,"w":2.85},{"m":"0.2","t":0.22,"w":3.55},{"m":"0.2","t":0.24,"w":4.35},{"m":"0.2","t":0.25,"w":4.9},
{"m":"0.5","t":0,"w":1},{"m":"0.5","t":0.15,"w":1.02},{"m":"0.5","t":0.2,"w":1.07},{"m":"0.5","t":0.25,"w":1.2},{"m":"0.5","t":0.28,"w":1.35},{"m":"0.5","t":0.3,"w":1.52},{"m":"0.5","t":0.32,"w":1.72},{"m":"0.5","t":0.34,"w":1.95},{"m":"0.5","t":0.36,"w":2.25},{"m":"0.5","t":0.38,"w":2.6},{"m":"0.5","t":0.4,"w":3},{"m":"0.5","t":0.42,"w":3.55},{"m":"0.5","t":0.44,"w":4.35},{"m":"0.5","t":0.45,"w":5},
{"m":"0.7","t":0,"w":1},{"m":"0.7","t":0.25,"w":1.03},{"m":"0.7","t":0.3,"w":1.07},{"m":"0.7","t":0.35,"w":1.15},{"m":"0.7","t":0.4,"w":1.3},{"m":"0.7","t":0.44,"w":1.52},{"m":"0.7","t":0.47,"w":1.78},{"m":"0.7","t":0.5,"w":2.15},{"m":"0.7","t":0.52,"w":2.5},{"m":"0.7","t":0.54,"w":3.05},{"m":"0.7","t":0.56,"w":3.9},{"m":"0.7","t":0.57,"w":4.5},{"m":"0.7","t":0.576,"w":5.08},
{"m":"1.0","t":0,"w":1},{"m":"1.0","t":0.3,"w":1.02},{"m":"1.0","t":0.4,"w":1.1},{"m":"1.0","t":0.45,"w":1.18},{"m":"1.0","t":0.5,"w":1.3},{"m":"1.0","t":0.55,"w":1.48},{"m":"1.0","t":0.6,"w":1.75},{"m":"1.0","t":0.63,"w":2.02},{"m":"1.0","t":0.66,"w":2.35},{"m":"1.0","t":0.69,"w":2.8},{"m":"1.0","t":0.71,"w":3.2},{"m":"1.0","t":0.73,"w":3.9},{"m":"1.0","t":0.745,"w":4.6},{"m":"1.0","t":0.752,"w":5.03},
{"m":"1.5","t":0,"w":1},{"m":"1.5","t":0.4,"w":1.03},{"m":"1.5","t":0.5,"w":1.08},{"m":"1.5","t":0.6,"w":1.15},{"m":"1.5","t":0.65,"w":1.2},{"m":"1.5","t":0.7,"w":1.3},{"m":"1.5","t":0.75,"w":1.42},{"m":"1.5","t":0.8,"w":1.6},{"m":"1.5","t":0.85,"w":1.85},{"m":"1.5","t":0.9,"w":2.25},{"m":"1.5","t":0.94,"w":2.7},{"m":"1.5","t":0.97,"w":3.15},{"m":"1.5","t":1,"w":3.8},{"m":"1.5","t":1.015,"w":4.4},{"m":"1.5","t":1.027,"w":5.03},
{"m":"2.0","t":0,"w":1},{"m":"2.0","t":0.5,"w":1.02},{"m":"2.0","t":0.6,"w":1.05},{"m":"2.0","t":0.7,"w":1.1},{"m":"2.0","t":0.8,"w":1.15},{"m":"2.0","t":0.9,"w":1.25},{"m":"2.0","t":0.95,"w":1.35},{"m":"2.0","t":1,"w":1.5},{"m":"2.0","t":1.05,"w":1.7},{"m":"2.0","t":1.1,"w":2},{"m":"2.0","t":1.14,"w":2.35},{"m":"2.0","t":1.17,"w":2.75},{"m":"2.0","t":1.2,"w":3.2},
{"m":"10.0","t":0,"w":1},{"m":"10.0","t":1.2,"w":1}
   ]},
   "mark":{"type":"line","color":"#000","strokeWidth":1.2},
   "encoding":{"x":{"field":"t","type":"quantitative","scale":{"domain":[0,1.2],"range":[602.3,929.3],"nice":false,"zero":false},
                    "axis":{"orient":"top","offset":-36,"values":[0,0.1,0.2,0.3,0.4,0.5,0.6,0.7,0.8,0.9,1,1.1,1.2],"labels":false}},
               "y":{"field":"w","type":"quantitative","scale":{"domain":[0.5,5.5],"range":[321.7,36],"nice":false,"zero":false},
                    "axis":{"orient":"right","offset":-731.7,"values":[1,1.5,2,2.5,3,3.5,4,4.5,5],"labels":false}},
               "detail":{"field":"m","type":"nominal"}}},
  {"data":{"values":[{"label":"(b)"}]},"mark":{"type":"text","fontSize":23,"align":"center","baseline":"alphabetic"},
   "encoding":{"x":{"datum":-0.179,"type":"quantitative","scale":{"domain":[0,1.2],"range":[602.3,929.3],"nice":false,"zero":false},"axis":null},"y":{"datum":5.29,"type":"quantitative","scale":{"domain":[0.5,5.5],"range":[321.7,36],"nice":false,"zero":false},"axis":null},"text":{"field":"label"}}},
  {"data":{"values":[{"label":"model"}]},"mark":{"type":"text","fontSize":27,"angle":270,"align":"center","baseline":"alphabetic"},
   "encoding":{"x":{"datum":0.1934,"type":"quantitative","scale":{"domain":[0,1.2],"range":[602.3,929.3],"nice":false,"zero":false},"axis":null},"y":{"datum":4.06,"type":"quantitative","scale":{"domain":[0.5,5.5],"range":[321.7,36],"nice":false,"zero":false},"axis":null},"text":{"field":"label"}}},
  {"data":{"values":[{"label":"t"}]},"mark":{"type":"text","fontSize":30,"font":"Liberation Serif","fontStyle":"italic","align":"left","baseline":"alphabetic"},
   "encoding":{"x":{"datum":0.4807,"type":"quantitative","scale":{"domain":[0,1.2],"range":[602.3,929.3],"nice":false,"zero":false},"axis":null},"y":{"datum":-0.4625,"type":"quantitative","scale":{"domain":[0.5,5.5],"range":[321.7,36],"nice":false,"zero":false},"axis":null},"text":{"field":"label"}}},
  {"data":{"values":[{"label":"(s)"}]},"mark":{"type":"text","fontSize":28,"align":"left","baseline":"alphabetic"},
   "encoding":{"x":{"datum":0.5394,"type":"quantitative","scale":{"domain":[0,1.2],"range":[602.3,929.3],"nice":false,"zero":false},"axis":null},"y":{"datum":-0.4625,"type":"quantitative","scale":{"domain":[0.5,5.5],"range":[321.7,36],"nice":false,"zero":false},"axis":null},"text":{"field":"label"}}},
  {"data":{"values":[{"label":"W / W"}]},"mark":{"type":"text","fontSize":27,"angle":270,"align":"center","baseline":"alphabetic"},
   "encoding":{"x":{"datum":-0.1185,"type":"quantitative","scale":{"domain":[0,1.2],"range":[602.3,929.3],"nice":false,"zero":false},"axis":null},"y":{"datum":2.863,"type":"quantitative","scale":{"domain":[0.5,5.5],"range":[321.7,36],"nice":false,"zero":false},"axis":null},"text":{"field":"label"}}},
  {"data":{"values":[{"label":"0"}]},"mark":{"type":"text","fontSize":14,"angle":270,"align":"center","baseline":"alphabetic"},
   "encoding":{"x":{"datum":-0.0818,"type":"quantitative","scale":{"domain":[0,1.2],"range":[602.3,929.3],"nice":false,"zero":false},"axis":null},"y":{"datum":3.65,"type":"quantitative","scale":{"domain":[0.5,5.5],"range":[321.7,36],"nice":false,"zero":false},"axis":null},"text":{"field":"label"}}},
  {"data":{"values":[{"label":"τ"}]},"mark":{"type":"text","fontSize":19,"align":"left","baseline":"alphabetic"},
   "encoding":{"x":{"datum":1.27,"type":"quantitative","scale":{"domain":[0,1.2],"range":[602.3,929.3],"nice":false,"zero":false},"axis":null},"y":{"datum":4.555,"type":"quantitative","scale":{"domain":[0.5,5.5],"range":[321.7,36],"nice":false,"zero":false},"axis":null},"text":{"field":"label"}}},
  {"data":{"values":[{"label":"q"}]},"mark":{"type":"text","fontSize":13,"align":"left","baseline":"alphabetic"},
   "encoding":{"x":{"datum":1.303,"type":"quantitative","scale":{"domain":[0,1.2],"range":[602.3,929.3],"nice":false,"zero":false},"axis":null},"y":{"datum":4.438,"type":"quantitative","scale":{"domain":[0.5,5.5],"range":[321.7,36],"nice":false,"zero":false},"axis":null},"text":{"field":"label"}}},
  {"data":{"values":[{"label":"(s)"}]},"mark":{"type":"text","fontSize":19,"align":"left","baseline":"alphabetic"},
   "encoding":{"x":{"datum":1.3456,"type":"quantitative","scale":{"domain":[0,1.2],"range":[602.3,929.3],"nice":false,"zero":false},"axis":null},"y":{"datum":4.555,"type":"quantitative","scale":{"domain":[0.5,5.5],"range":[321.7,36],"nice":false,"zero":false},"axis":null},"text":{"field":"label"}}},
  {"data":{"values":[{"label":"exp."}]},"mark":{"type":"text","fontSize":19,"align":"center","baseline":"alphabetic"},
   "encoding":{"x":{"datum":1.5237,"type":"quantitative","scale":{"domain":[0,1.2],"range":[602.3,929.3],"nice":false,"zero":false},"axis":null},"y":{"datum":4.555,"type":"quantitative","scale":{"domain":[0.5,5.5],"range":[321.7,36],"nice":false,"zero":false},"axis":null},"text":{"field":"label"}}},
  {"data":{"values":[{"label":"sim."}]},"mark":{"type":"text","fontSize":19,"align":"left","baseline":"alphabetic"},
   "encoding":{"x":{"datum":1.649,"type":"quantitative","scale":{"domain":[0,1.2],"range":[602.3,929.3],"nice":false,"zero":false},"axis":null},"y":{"datum":4.555,"type":"quantitative","scale":{"domain":[0.5,5.5],"range":[321.7,36],"nice":false,"zero":false},"axis":null},"text":{"field":"label"}}},
  {"data":{"values":[{"col":"exp"}]},"mark":{"type":"rule","color":"#7a7a7a","strokeWidth":1.2},
   "encoding":{"x":{"datum":1.4411,"type":"quantitative","scale":{"domain":[0,1.2],"range":[602.3,929.3],"nice":false,"zero":false},"axis":null},"y":{"datum":4.788,"type":"quantitative","scale":{"domain":[0.5,5.5],"range":[321.7,36],"nice":false,"zero":false},"axis":null},"y2":{"datum":1.375}}},
  {"data":{"values":[{"col":"sim"}]},"mark":{"type":"rule","color":"#7a7a7a","strokeWidth":1.2},
   "encoding":{"x":{"datum":1.6125,"type":"quantitative","scale":{"domain":[0,1.2],"range":[602.3,929.3],"nice":false,"zero":false},"axis":null},"y":{"datum":4.788,"type":"quantitative","scale":{"domain":[0.5,5.5],"range":[321.7,36],"nice":false,"zero":false},"axis":null},"y2":{"datum":1.375}}}
 ]
},
{
 "layer":[
  {"data":{"values":[{"s":"0.2"},{"s":"0.5"},{"s":"0.7"},{"s":"1.0"},{"s":"1.5"},{"s":"2.0"},{"s":"10.0"}]},
   "mark":{"type":"text","fontSize":19,"align":"center","baseline":"middle"},
   "encoding":{"x":{"datum":1.3127,"type":"quantitative","scale":{"domain":[0,1.2],"range":[602.3,929.3],"nice":false,"zero":false},"axis":null},
               "y":{"field":"s","type":"nominal","scale":{"type":"point","domain":["0.2","0.5","0.7","1.0","1.5","2.0","10.0"],"range":[112.3,256.7],"padding":0},"axis":null},"text":{"field":"s"}}},
  {"data":{"values":[{"s":"0.2"},{"s":"0.5"},{"s":"0.7"},{"s":"1.0"},{"s":"1.5"},{"s":"2.0"},{"s":"10.0"}]},
   "mark":{"type":"point","filled":false,"size":48,"strokeWidth":1.4,"opacity":1},
   "encoding":{"x":{"datum":1.5083,"type":"quantitative","scale":{"domain":[0,1.2],"range":[602.3,929.3],"nice":false,"zero":false},"axis":null},
               "y":{"field":"s","type":"nominal","scale":{"type":"point","domain":["0.2","0.5","0.7","1.0","1.5","2.0","10.0"],"range":[112.3,256.7],"padding":0},"axis":null},
               "color":{"field":"s","type":"nominal","legend":null,"scale":{"domain":["0.2","0.5","0.7","1.0","1.5","2.0","10.0"],"range":["#1f2fa8","#9a1b1b","#ff1a1a","#ff8000","#ff1aff","#7f22f0","#22e6f2"]}},
               "shape":{"field":"s","type":"nominal","legend":null,"scale":{"domain":["0.2","0.5","0.7","1.0","1.5","2.0","10.0"],"range":["square","diamond","triangle-down","diamond","M0,-1L0.235,-0.324L0.951,-0.309L0.38,0.124L0.588,0.809L0,0.4L-0.588,0.809L-0.38,0.124L-0.951,-0.309L-0.235,-0.324Z","triangle-up","circle"]}}}},
  {"data":{"values":[{"s":"0.2"},{"s":"0.5"},{"s":"0.7"},{"s":"1.0"}]},
   "mark":{"type":"rule","strokeWidth":2},
   "encoding":{"x":{"datum":1.6404,"type":"quantitative","scale":{"domain":[0,1.2],"range":[602.3,929.3],"nice":false,"zero":false},"axis":null},"x2":{"datum":1.9244},
               "y":{"field":"s","type":"nominal","scale":{"type":"point","domain":["0.2","0.5","0.7","1.0","1.5","2.0","10.0"],"range":[112.3,256.7],"padding":0},"axis":null},
               "color":{"field":"s","type":"nominal","legend":null,"scale":{"domain":["0.2","0.5","0.7","1.0","1.5","2.0","10.0"],"range":["#1f2fa8","#9a1b1b","#ff1a1a","#ff8000","#ff1aff","#7f22f0","#22e6f2"]}}}}
 ]
},
{
 "resolve":{"axis":{"x":"independent","y":"independent"}},
 "layer":[
  {"data":{"values":[{"k":0,"v":1},{"k":0.5,"v":0.93},{"k":1,"v":0.79},{"k":1.5,"v":0.63},{"k":2,"v":0.46},{"k":2.5,"v":0.31},{"k":3,"v":0.2},{"k":3.5,"v":0.125},{"k":4,"v":0.073},{"k":4.5,"v":0.041},{"k":5,"v":0.023},{"k":5.5,"v":0.012},{"k":6,"v":0.0064},{"k":6.5,"v":0.0031},{"k":7,"v":0.00145},{"k":7.2,"v":0.001}]},
   "mark":{"type":"line","color":"#000","strokeWidth":3},
   "encoding":{"x":{"field":"k","type":"quantitative","scale":{"domain":[-1,9],"range":[1238,1598],"nice":false,"zero":false},
                    "axis":{"orient":"bottom","offset":-71,"values":[0,1,2,3,4,5,6,7,8],"labelExpr":"datum.value%2==0 ? format(datum.value,'d') : ''","labelPadding":12}},
               "y":{"field":"v","type":"quantitative","scale":{"type":"log","domain":[0.001,2],"range":[324,40],"nice":false},
                    "axis":{"orient":"left","offset":-1238,"values":[0.001,0.01,0.1,1],"tickSize":-7,"labelPadding":13,"labelExpr":"datum.value==1 ? '10⁰' : datum.value==0.1 ? '10⁻¹' : datum.value==0.01 ? '10⁻²' : '10⁻³'"}}}},
  {"data":{"values":[{"k":0,"v":1},{"k":1,"v":0.89},{"k":2,"v":0.68},{"k":3,"v":0.465},{"k":4,"v":0.26},{"k":5,"v":0.1},{"k":6,"v":0.0101},{"k":7,"v":0.066},{"k":8,"v":0.085},{"k":9,"v":0.075}]},
   "mark":{"type":"line","color":"#2a2aff","strokeWidth":1},
   "encoding":{"x":{"field":"k","type":"quantitative","scale":{"domain":[-1,9],"range":[1238,1598],"nice":false,"zero":false},
                    "axis":{"orient":"top","offset":-40,"values":[0,1,2,3,4,5,6,7,8],"labels":false}},
               "y":{"field":"v","type":"quantitative","scale":{"type":"log","domain":[0.001,2],"range":[324,40],"nice":false},
                    "axis":{"orient":"right","offset":-63,"values":[0.001,0.01,0.1,1],"tickSize":-7,"labels":false}}}},
  {"data":{"values":[{"k":0,"v":1},{"k":1,"v":0.83},{"k":2,"v":0.57},{"k":3,"v":0.267},{"k":4,"v":0.089},{"k":5,"v":0.036},{"k":6,"v":0.071},{"k":7,"v":0.127},{"k":8,"v":0.116},{"k":9,"v":0.055}]},
   "mark":{"type":"line","color":"#ff9020","strokeWidth":1},
   "encoding":{"x":{"field":"k","type":"quantitative","scale":{"domain":[-1,9],"range":[1238,1598],"nice":false,"zero":false},"axis":null},
               "y":{"field":"v","type":"quantitative","scale":{"type":"log","domain":[0.001,2],"range":[324,40],"nice":false},
                    "axis":{"orient":"left","offset":-1238,"values":[0.002,0.003,0.004,0.005,0.006,0.007,0.008,0.009,0.02,0.03,0.04,0.05,0.06,0.07,0.08,0.09,0.2,0.3,0.4,0.5,0.6,0.7,0.8,0.9,2],"tickSize":-4,"labels":false,"domain":false}}}},
  {"data":{"values":[{"k":0,"v":1},{"k":1,"v":0.89},{"k":2,"v":0.68},{"k":3,"v":0.465},{"k":4,"v":0.26},{"k":5,"v":0.1},{"k":6,"v":0.0101},{"k":7,"v":0.066},{"k":8,"v":0.085},{"k":9,"v":0.075}]},
   "mark":{"type":"point","shape":"square","filled":false,"color":"#2a2aff","size":40,"strokeWidth":2,"opacity":1},
   "encoding":{"x":{"field":"k","type":"quantitative","scale":{"domain":[-1,9],"range":[1238,1598],"nice":false,"zero":false},"axis":null},
               "y":{"field":"v","type":"quantitative","scale":{"type":"log","domain":[0.001,2],"range":[324,40],"nice":false},
                    "axis":{"orient":"right","offset":-63,"values":[0.002,0.003,0.004,0.005,0.006,0.007,0.008,0.009,0.02,0.03,0.04,0.05,0.06,0.07,0.08,0.09,0.2,0.3,0.4,0.5,0.6,0.7,0.8,0.9,2],"tickSize":-4,"labels":false,"domain":false}}}},
  {"data":{"values":[{"k":0,"v":1},{"k":1,"v":0.83},{"k":2,"v":0.57},{"k":3,"v":0.267},{"k":4,"v":0.089},{"k":5,"v":0.036},{"k":6,"v":0.071},{"k":7,"v":0.127},{"k":8,"v":0.116},{"k":9,"v":0.055}]},
   "mark":{"type":"point","shape":"circle","filled":false,"color":"#ff9020","size":60,"strokeWidth":1.8,"opacity":1},
   "encoding":{"x":{"field":"k","type":"quantitative","scale":{"domain":[-1,9],"range":[1238,1598],"nice":false,"zero":false},"axis":null},
               "y":{"field":"v","type":"quantitative","scale":{"type":"log","domain":[0.001,2],"range":[324,40],"nice":false},"axis":null}}},
  {"data":{"values":[{"item":"simulation"}]},"mark":{"type":"rule","color":"#2a2aff","strokeWidth":1},
   "encoding":{"x":{"datum":4.381,"type":"quantitative","scale":{"domain":[-1,9],"range":[1238,1598],"nice":false,"zero":false},"axis":null},"x2":{"datum":5.583},"y":{"datum":1,"type":"quantitative","scale":{"type":"log","domain":[0.001,2],"range":[324,40],"nice":false},"axis":null}}},
  {"data":{"values":[{"item":"simulation"}]},"mark":{"type":"point","shape":"square","filled":false,"color":"#2a2aff","size":40,"strokeWidth":2,"opacity":1},
   "encoding":{"x":{"datum":4.981,"type":"quantitative","scale":{"domain":[-1,9],"range":[1238,1598],"nice":false,"zero":false},"axis":null},"y":{"datum":1,"type":"quantitative","scale":{"type":"log","domain":[0.001,2],"range":[324,40],"nice":false},"axis":null}}},
  {"data":{"values":[{"label":"simulation"}]},"mark":{"type":"text","fontSize":20,"align":"left","baseline":"middle"},
   "encoding":{"x":{"datum":5.769,"type":"quantitative","scale":{"domain":[-1,9],"range":[1238,1598],"nice":false,"zero":false},"axis":null},"y":{"datum":1,"type":"quantitative","scale":{"type":"log","domain":[0.001,2],"range":[324,40],"nice":false},"axis":null},"text":{"field":"label"}}},
  {"data":{"values":[{"item":"experiment"}]},"mark":{"type":"rule","color":"#ff9020","strokeWidth":1},
   "encoding":{"x":{"datum":4.381,"type":"quantitative","scale":{"domain":[-1,9],"range":[1238,1598],"nice":false,"zero":false},"axis":null},"x2":{"datum":5.583},"y":{"datum":0.4933,"type":"quantitative","scale":{"type":"log","domain":[0.001,2],"range":[324,40],"nice":false},"axis":null}}},
  {"data":{"values":[{"item":"experiment"}]},"mark":{"type":"point","shape":"circle","filled":false,"color":"#ff9020","size":60,"strokeWidth":1.8,"opacity":1},
   "encoding":{"x":{"datum":4.981,"type":"quantitative","scale":{"domain":[-1,9],"range":[1238,1598],"nice":false,"zero":false},"axis":null},"y":{"datum":0.4933,"type":"quantitative","scale":{"type":"log","domain":[0.001,2],"range":[324,40],"nice":false},"axis":null}}},
  {"data":{"values":[{"label":"experiment"}]},"mark":{"type":"text","fontSize":20,"align":"left","baseline":"middle"},
   "encoding":{"x":{"datum":5.769,"type":"quantitative","scale":{"domain":[-1,9],"range":[1238,1598],"nice":false,"zero":false},"axis":null},"y":{"datum":0.4933,"type":"quantitative","scale":{"type":"log","domain":[0.001,2],"range":[324,40],"nice":false},"axis":null},"text":{"field":"label"}}},
  {"data":{"values":[{"label":"(c)"}]},"mark":{"type":"text","fontSize":23,"align":"center","baseline":"alphabetic"},
   "encoding":{"x":{"datum":-3.075,"type":"quantitative","scale":{"domain":[-1,9],"range":[1238,1598],"nice":false,"zero":false},"axis":null},"y":{"datum":1.614,"type":"quantitative","scale":{"type":"log","domain":[0.001,2],"range":[324,40],"nice":false},"axis":null},"text":{"field":"label"}}},
  {"data":{"values":[{"label":"model"}]},"mark":{"type":"text","fontSize":22,"angle":58,"align":"center","baseline":"middle"},
   "encoding":{"x":{"datum":7.083,"type":"quantitative","scale":{"domain":[-1,9],"range":[1238,1598],"nice":false,"zero":false},"axis":null},"y":{"datum":0.003422,"type":"quantitative","scale":{"type":"log","domain":[0.001,2],"range":[324,40],"nice":false},"axis":null},"text":{"field":"label"}}},
  {"data":{"values":[{"label":"particle number,"}]},"mark":{"type":"text","fontSize":28,"align":"left","baseline":"alphabetic"},
   "encoding":{"x":{"datum":1.186,"type":"quantitative","scale":{"domain":[-1,9],"range":[1238,1598],"nice":false,"zero":false},"axis":null},"y":{"datum":0.000244,"type":"quantitative","scale":{"type":"log","domain":[0.001,2],"range":[324,40],"nice":false},"axis":null},"text":{"field":"label"}}},
  {"data":{"values":[{"label":"k"}]},"mark":{"type":"text","fontSize":30,"font":"Liberation Serif","fontStyle":"italic","align":"left","baseline":"alphabetic"},
   "encoding":{"x":{"datum":7.019,"type":"quantitative","scale":{"domain":[-1,9],"range":[1238,1598],"nice":false,"zero":false},"axis":null},"y":{"datum":0.000244,"type":"quantitative","scale":{"type":"log","domain":[0.001,2],"range":[324,40],"nice":false},"axis":null},"text":{"field":"label"}}},
  {"data":{"values":[{"label":"| C (k,t) / (k,0) |"}]},"mark":{"type":"text","fontSize":26,"font":"Liberation Serif","fontStyle":"italic","angle":270,"align":"center","baseline":"middle"},
   "encoding":{"x":{"datum":-2.611,"type":"quantitative","scale":{"domain":[-1,9],"range":[1238,1598],"nice":false,"zero":false},"axis":null},"y":{"datum":0.03707,"type":"quantitative","scale":{"type":"log","domain":[0.001,2],"range":[324,40],"nice":false},"axis":null},"text":{"field":"label"}}}
 ]
},
{
 "resolve":{"axis":{"x":"independent","y":"independent"}},
 "layer":[
  {"data":{"values":[{"k":0,"v":1},{"k":1,"v":-0.79},{"k":2,"v":0.433},{"k":3,"v":-0.2},{"k":4,"v":0.062},{"k":5,"v":-0.03},{"k":6,"v":0.005},{"k":7,"v":0},{"k":8,"v":0},{"k":9,"v":0},{"k":10,"v":0}]},
   "mark":{"type":"line","color":"#000","strokeWidth":2},
   "encoding":{"x":{"field":"k","type":"quantitative","scale":{"domain":[-0.5,10],"range":[1272,1421.7],"nice":false,"zero":false},
                    "axis":{"orient":"bottom","offset":-94,"values":[0,1,2,3,4,5,6,7,8,9,10],"labelExpr":"datum.value%2==0 ? format(datum.value,'d') : ''","labelFontSize":15,"tickSize":-3,"labelPadding":6,"domainColor":"#888","tickColor":"#555","domainWidth":1}},
               "y":{"field":"v","type":"quantitative","scale":{"domain":[-0.89,1.1],"range":[301,183.3],"nice":false,"zero":false},
                    "axis":{"orient":"left","offset":-1272,"values":[-0.75,-0.5,-0.25,0,0.25,0.5,0.75,1],"labelExpr":"abs(round(datum.value*4))%2==0 ? replace(format(datum.value,'.1f'),'\u2212','-') : ''","labelFontSize":15,"tickSize":-3,"labelPadding":5,"domainColor":"#888","tickColor":"#555","domainWidth":1}}}},
  {"data":{"values":[{"k":0,"v":1},{"k":1,"v":-0.865},{"k":2,"v":0.669},{"k":3,"v":-0.455},{"k":4,"v":0.258},{"k":5,"v":-0.101},{"k":6,"v":-0.006},{"k":7,"v":0.067},{"k":8,"v":-0.09},{"k":9,"v":0.079},{"k":10,"v":-0.045}]},
   "mark":{"type":"line","color":"#2a2aff","strokeWidth":1},
   "encoding":{"x":{"field":"k","type":"quantitative","scale":{"domain":[-0.5,10],"range":[1272,1421.7],"nice":false,"zero":false},
                    "axis":{"orient":"top","offset":-183.3,"values":[0,1,2,3,4,5,6,7,8,9,10],"labels":false,"tickSize":-3,"domainColor":"#888","tickColor":"#555","domainWidth":1}},
               "y":{"field":"v","type":"quantitative","scale":{"domain":[-0.89,1.1],"range":[301,183.3],"nice":false,"zero":false},
                    "axis":{"orient":"right","offset":-239.3,"values":[-0.75,-0.5,-0.25,0,0.25,0.5,0.75,1],"labels":false,"tickSize":-3,"domainColor":"#888","tickColor":"#555","domainWidth":1}}}},
  {"data":{"values":[{"k":0,"v":1},{"k":1,"v":-0.82},{"k":2,"v":0.573},{"k":3,"v":-0.27},{"k":4,"v":0.096},{"k":5,"v":-0.034},{"k":6,"v":0.073},{"k":7,"v":-0.129},{"k":8,"v":0.112},{"k":9,"v":-0.05},{"k":10,"v":-0.118}]},
   "mark":{"type":"line","color":"#ff9020","strokeWidth":1},
   "encoding":{"x":{"field":"k","type":"quantitative","scale":{"domain":[-0.5,10],"range":[1272,1421.7],"nice":false,"zero":false},"axis":null},
               "y":{"field":"v","type":"quantitative","scale":{"domain":[-0.89,1.1],"range":[301,183.3],"nice":false,"zero":false},"axis":null}}},
  {"data":{"values":[{"k":0,"v":1},{"k":1,"v":-0.82},{"k":2,"v":0.573},{"k":3,"v":-0.27},{"k":4,"v":0.096},{"k":5,"v":-0.034},{"k":6,"v":0.073},{"k":7,"v":-0.129},{"k":8,"v":0.112},{"k":9,"v":-0.05},{"k":10,"v":-0.118}]},
   "mark":{"type":"point","shape":"circle","filled":false,"color":"#ff9020","size":30,"strokeWidth":1.2,"opacity":1},
   "encoding":{"x":{"field":"k","type":"quantitative","scale":{"domain":[-0.5,10],"range":[1272,1421.7],"nice":false,"zero":false},"axis":null},
               "y":{"field":"v","type":"quantitative","scale":{"domain":[-0.89,1.1],"range":[301,183.3],"nice":false,"zero":false},"axis":null}}},
  {"data":{"values":[{"k":0,"v":1},{"k":1,"v":-0.865},{"k":2,"v":0.669},{"k":3,"v":-0.455},{"k":4,"v":0.258},{"k":5,"v":-0.101},{"k":6,"v":-0.006},{"k":7,"v":0.067},{"k":8,"v":-0.09},{"k":9,"v":0.079},{"k":10,"v":-0.045}]},
   "mark":{"type":"point","shape":"square","filled":false,"color":"#2a2aff","size":22,"strokeWidth":1.3,"opacity":1},
   "encoding":{"x":{"field":"k","type":"quantitative","scale":{"domain":[-0.5,10],"range":[1272,1421.7],"nice":false,"zero":false},"axis":null},
               "y":{"field":"v","type":"quantitative","scale":{"domain":[-0.89,1.1],"range":[301,183.3],"nice":false,"zero":false},"axis":null}}},
  {"data":{"values":[{"label":"C (k, t) /C (0, t)"}]},"mark":{"type":"text","fontSize":20,"font":"Liberation Serif","fontStyle":"italic","align":"center","baseline":"alphabetic"},
   "encoding":{"x":{"datum":3.589,"type":"quantitative","scale":{"domain":[-0.5,10],"range":[1272,1421.7],"nice":false,"zero":false},"axis":null},"y":{"datum":1.296,"type":"quantitative","scale":{"domain":[-0.89,1.1],"range":[301,183.3],"nice":false,"zero":false},"axis":null},"text":{"field":"label"}}}
 ]
}
]
}
